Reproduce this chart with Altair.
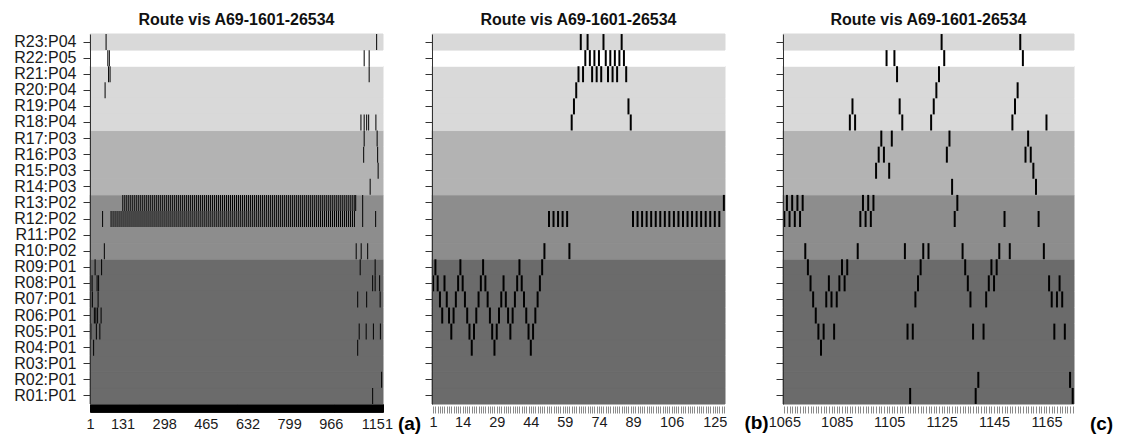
import json
import altair as alt
import pandas as pd

FONT = "Liberation Sans"

# ---- categories (bottom to top) ----
row_labels = ["R01:P01", "R02:P01", "R03:P01", "R04:P01", "R05:P01", "R06:P01", "R07:P01",
              "R08:P01", "R09:P01", "R10:P02", "R11:P02", "R12:P02", "R13:P02", "R14:P03",
              "R15:P03", "R16:P03", "R17:P03", "R18:P04", "R19:P04", "R20:P04", "R21:P04",
              "R22:P05", "R23:P04"]
groups = ["P01", "P02", "P03", "P04", "P05"]
group_colors = ["#6b6b6b", "#8d8d8d", "#b3b3b3", "#d9d9d9", "#ffffff"]

title_text = "Route vis A69-1601-26534"

# ---- panel (a): whole track ----
a_r13_dense = [132, 140, 148, 156, 164, 172, 180, 188, 196, 204, 212, 220, 228, 236, 244, 252, 260,
               268, 276, 284, 292, 300, 308, 316, 324, 332, 340, 348, 356, 364, 372, 380, 388, 396,
               404, 412, 420, 428, 436, 444, 452, 460, 468, 476, 484, 492, 500, 508, 516, 524, 532,
               540, 548, 556, 564, 572, 580, 588, 596, 604, 612, 620, 628, 636, 644, 652, 660, 668,
               676, 684, 692, 700, 708, 716, 724, 732, 740, 748, 756, 764, 772, 780, 788, 796, 804,
               812, 820, 828, 836, 844, 852, 860, 868, 876, 884, 892, 900, 908, 916, 924, 932, 940,
               948, 956, 964, 972, 980, 988, 996, 1004, 1012, 1020, 1028, 1036, 1044, 1052, 1060, 1066]
a_r12_dense = [85, 93, 101, 109, 117, 125, 133, 141, 149, 157, 165, 173, 181, 189, 197, 205, 213,
               221, 229, 237, 245, 253, 261, 269, 277, 285, 293, 301, 309, 317, 325, 333, 341, 349,
               357, 365, 373, 381, 389, 397, 405, 413, 421, 429, 437, 445, 453, 461, 469, 477, 485,
               493, 501, 509, 517, 525, 533, 541, 549, 557, 565, 573, 581, 589, 597, 605, 613, 621,
               629, 637, 645, 653, 661, 669, 677, 685, 693, 701, 709, 717, 725, 733, 741, 749, 757,
               765, 773, 781, 789, 797, 805, 813, 821, 829, 837, 845, 853, 861, 869, 877, 885, 893,
               901, 909, 917, 925, 933, 941, 949, 957, 965, 973, 981, 989, 997, 1005, 1013, 1021,
               1029, 1037, 1045, 1053, 1061]
a_rows = ["R23", "R22", "R21", "R20", "R18", "R17", "R16", "R15", "R14", "R13", "R13", "R12",
          "R12", "R10", "R09", "R08", "R07", "R06", "R05", "R04", "R02", "R01"]
a_xs = [[65, 1150], [72, 78, 1100, 1120], [75, 81, 1120], [61],
        [1087, 1100, 1110, 1118, 1147], [1100, 1152], [1098, 1154], [1156], [1124],
        a_r13_dense, [1094], a_r12_dense, [51, 1094, 1146],
        [58, 1068, 1088, 1114], [21, 47, 1084, 1144], [3, 9, 29, 35, 1134, 1144, 1162],
        [3, 10, 33, 1074, 1110, 1164], [18, 24, 31, 45], [4, 26, 40, 1080, 1108, 1137, 1165],
        [15, 1074], [1170], [1134]]
a_domain = [0.5, 1175.5]
a_tick_labels = [1, 131, 298, 465, 632, 799, 966, 1151]

# ---- panel (b): first detections ----
b_rows = ["R23", "R22", "R21", "R20", "R19", "R18", "R13", "R12", "R10",
          "R09", "R08", "R07", "R06", "R05", "R04"]
b_xs = [[66, 69, 76, 84],
        [68, 70, 72, 74, 77, 79, 81, 83, 85],
        [65, 67, 71, 73, 75, 78, 80, 82, 86],
        [64], [63, 87], [62, 88], [129],
        [52, 54, 56, 58, 60, 89, 91, 93, 95, 97, 99, 101, 103, 105, 107, 109, 111, 113, 115,
         117, 119, 121, 123, 125, 127],
        [50, 61],
        [2, 13, 23, 39, 49],
        [1, 3, 6, 12, 14, 22, 24, 32, 38, 40, 48],
        [4, 7, 11, 15, 21, 25, 31, 33, 37, 41, 47],
        [5, 8, 10, 16, 20, 26, 30, 34, 36, 42, 46],
        [9, 17, 19, 27, 29, 35, 43, 45],
        [18, 28, 44]]
b_domain = [0.5, 129.5]
b_tick_labels = [1, 14, 29, 44, 59, 74, 89, 106, 125]

# ---- panel (c): last detections ----
c_rows = ["R23", "R22", "R21", "R20", "R19", "R18", "R17", "R16", "R15", "R14", "R13", "R12",
          "R10", "R09", "R08", "R07", "R06", "R05", "R04", "R02", "R01"]
c_xs = [[1125, 1155], [1104, 1107, 1126, 1156], [1108, 1124], [1123, 1154],
        [1091, 1109, 1122, 1153], [1090, 1092, 1110, 1121, 1152, 1165],
        [1102, 1106, 1128, 1158], [1101, 1103, 1127, 1157, 1159], [1100, 1105, 1160],
        [1129, 1161], [1066, 1068, 1070, 1072, 1095, 1097, 1099, 1131],
        [1065, 1067, 1069, 1071, 1094, 1096, 1098, 1130, 1149, 1162],
        [1073, 1093, 1111, 1118, 1120, 1133, 1147, 1151, 1164],
        [1074, 1087, 1089, 1117, 1134, 1144, 1146],
        [1075, 1082, 1086, 1088, 1116, 1135, 1143, 1145, 1166, 1170],
        [1076, 1081, 1083, 1085, 1115, 1136, 1142, 1167, 1169, 1171],
        [1077], [1078, 1080, 1084, 1112, 1114, 1137, 1141, 1168, 1172], [1079],
        [1139, 1174], [1113, 1138, 1175]]
c_domain = [1064.5, 1175.5]
c_tick_labels = [1065, 1085, 1105, 1125, 1145, 1165]

# ---------------------------------------------------------------
label_of = {lbl[:3]: lbl for lbl in row_labels}
order = list(reversed(row_labels))
bg_df = pd.DataFrame({"row": row_labels, "grp": [lbl[-3:] for lbl in row_labels]})
HEIGHT = 370


def events(rows, xs):
    recs = []
    for r, lst in zip(rows, xs):
        for v in lst:
            recs.append({"x": v, "row": label_of[r]})
    return pd.DataFrame(recs)


def panel(rows, xs, domain, labels, letter, width, show_ylabels, thick,
          xtick_color, xtick_size, xoffset, label_pad, letter_dx, letter_dy):
    yscale = alt.Scale(type="band", domain=order, paddingInner=0, paddingOuter=0)
    yaxis = alt.Axis(title=None, labels=show_ylabels, labelFont=FONT, labelFontSize=16,
                     labelColor="#1a1a1a", labelPadding=7, tickSize=7, tickColor="#333333",
                     domain=True, domainColor="#333333", grid=False)
    lo, hi = int(domain[0] + 0.5), int(domain[1] - 0.5)
    xaxis = alt.Axis(
        values=list(range(lo, hi + 1)), format="d",
        labelExpr=f"indexof({json.dumps(labels)}, datum.value) >= 0 ? datum.label : ''",
        labelOverlap=False, labelFlush=False, labelBound=False,
        labelFont=FONT, labelFontSize=14.5, labelColor="#1a1a1a", labelPadding=label_pad,
        tickSize=xtick_size, tickColor=xtick_color, tickWidth=1, domain=False, grid=False,
        offset=xoffset,
        title=letter, titleFont=FONT, titleFontSize=19, titleFontWeight="bold",
        titleColor="#000000", titleAlign="center", titleBaseline="middle",
        titleX=width + letter_dx, titleY=letter_dy)
    gscale = alt.Scale(domain=groups, range=group_colors)
    bg = alt.Chart(bg_df).mark_rect(strokeWidth=1).encode(
        x=alt.value(0), x2=alt.value(width),
        y=alt.Y("row:N", scale=yscale, axis=yaxis),
        color=alt.Color("grp:N", scale=gscale, legend=None),
        stroke=alt.Stroke("grp:N", scale=gscale, legend=None),
    )
    ev = alt.Chart(events(rows, xs)).mark_tick(color="black", thickness=thick, size=16,
                                                 opacity=1).encode(
        x=alt.X("x:Q", scale=alt.Scale(domain=domain, nice=False, zero=False), axis=xaxis),
        y=alt.Y("row:N", scale=yscale, axis=yaxis),
    )
    return alt.layer(bg, ev).properties(
        width=width, height=HEIGHT,
        title=alt.Title(title_text, font=FONT, fontSize=16, fontWeight="bold",
                        color="#111111", offset=6, anchor="middle"))


pa = panel(a_rows, a_xs, a_domain, a_tick_labels, "(a)", 293, True, 1,
           "#000000", 8, 0, 5, 26, 19)
pb = panel(b_rows, b_xs, b_domain, b_tick_labels, "(b)", 293, False, 2,
           "#8a8a8a", 7, 2, 2, 31, 16)
pc = panel(c_rows, c_xs, c_domain, c_tick_labels, "(c)", 291, False, 2,
           "#8a8a8a", 7, 2, 2, 27, 17)

chart = alt.hconcat(
    pa,
    alt.hconcat(pb, pc, spacing=58, bounds="flush"),
    spacing=49, bounds="flush",
).configure_view(stroke=None).properties(
    padding={"left": 13, "top": 11, "right": 5, "bottom": 2}, background="white")

chart.save("out.html", embed_options={"renderer": "svg", "actions": False})
